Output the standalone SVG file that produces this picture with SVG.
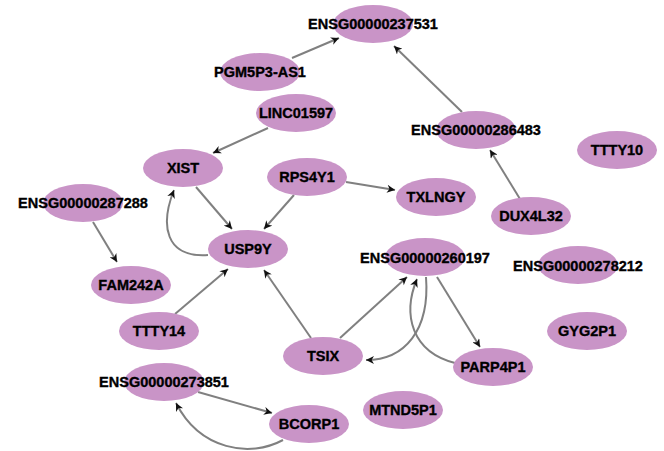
<svg xmlns="http://www.w3.org/2000/svg" width="664" height="451" viewBox="0 0 664 451">
  <style>
    .node ellipse { fill: #c994c7; }
    .node text { font-family: "Liberation Sans", Arial, sans-serif; font-weight: bold; font-size: 14.5px; fill: #000; stroke: #000; stroke-width: 0.35px; text-anchor: middle; }
    .edges path { fill: none; stroke: #808080; stroke-width: 2; marker-end: url(#arrow); }
  </style>
  <defs>
    <marker id="arrow" viewBox="0 0 10 10" refX="10" refY="5" markerWidth="9" markerHeight="8" markerUnits="userSpaceOnUse" orient="auto">
      <path d="M0,0 L10,5 L0,10 L3,5 z" fill="#111"/>
    </marker>
  </defs>
  <rect width="664" height="451" fill="#fff"/>

  <g class="edges">
    <path d="M292,58 L339,38"/>
    <path d="M462,112 L394,46"/>
    <path d="M268,128 L213,153"/>
    <path d="M196,187 L232,229"/>
    <path d="M208,255 C165,258 160,225 174,190"/>
    <path d="M294,195 L264,229"/>
    <path d="M346,182 L395,190"/>
    <path d="M93,222 L117,262"/>
    <path d="M175,314 L228,269"/>
    <path d="M311,338 L264,270"/>
    <path d="M340,338 L407,277"/>
    <path d="M426,277 C430,330 405,360 366,360"/>
    <path d="M455,363 C412,352 402,315 417,279"/>
    <path d="M437,277 L480,347"/>
    <path d="M520,199 L490,150"/>
    <path d="M198,392 L272,413"/>
    <path d="M283,440 C250,458 200,450 176,403"/>
  </g>

  <g id="ENSG00000237531" class="node"><ellipse cx="373" cy="24" rx="40" ry="19"/><text x="373" y="29">ENSG00000237531</text></g>
  <g id="PGM5P3-AS1" class="node"><ellipse cx="260" cy="72" rx="40" ry="19"/><text x="260" y="77">PGM5P3-AS1</text></g>
  <g id="LINC01597" class="node"><ellipse cx="296" cy="113" rx="40" ry="19"/><text x="296" y="118">LINC01597</text></g>
  <g id="ENSG00000286483" class="node"><ellipse cx="476" cy="130" rx="40" ry="19"/><text x="476" y="135">ENSG00000286483</text></g>
  <g id="TTTY10" class="node"><ellipse cx="617" cy="150" rx="40" ry="19"/><text x="617" y="155">TTTY10</text></g>
  <g id="XIST" class="node"><ellipse cx="183" cy="168" rx="40" ry="19"/><text x="183" y="173">XIST</text></g>
  <g id="RPS4Y1" class="node"><ellipse cx="307" cy="177" rx="40" ry="19"/><text x="307" y="182">RPS4Y1</text></g>
  <g id="TXLNGY" class="node"><ellipse cx="436" cy="197" rx="40" ry="19"/><text x="436" y="202">TXLNGY</text></g>
  <g id="ENSG00000287288" class="node"><ellipse cx="83" cy="203" rx="40" ry="19"/><text x="83" y="208">ENSG00000287288</text></g>
  <g id="DUX4L32" class="node"><ellipse cx="531" cy="216" rx="40" ry="19"/><text x="531" y="221">DUX4L32</text></g>
  <g id="USP9Y" class="node"><ellipse cx="248" cy="249" rx="40" ry="19"/><text x="248" y="254">USP9Y</text></g>
  <g id="ENSG00000260197" class="node"><ellipse cx="425" cy="257" rx="40" ry="19"/><text x="425" y="263">ENSG00000260197</text></g>
  <g id="ENSG00000278212" class="node"><ellipse cx="578" cy="265" rx="40" ry="19"/><text x="578" y="271">ENSG00000278212</text></g>
  <g id="FAM242A" class="node"><ellipse cx="131" cy="285" rx="40" ry="19"/><text x="131" y="290">FAM242A</text></g>
  <g id="TTTY14" class="node"><ellipse cx="159" cy="331" rx="40" ry="19"/><text x="159" y="336">TTTY14</text></g>
  <g id="GYG2P1" class="node"><ellipse cx="587" cy="331" rx="40" ry="19"/><text x="587" y="336">GYG2P1</text></g>
  <g id="TSIX" class="node"><ellipse cx="323" cy="356" rx="40" ry="19"/><text x="323" y="361">TSIX</text></g>
  <g id="PARP4P1" class="node"><ellipse cx="493" cy="367" rx="40" ry="19"/><text x="493" y="372">PARP4P1</text></g>
  <g id="ENSG00000273851" class="node"><ellipse cx="164" cy="382" rx="40" ry="19"/><text x="164" y="387">ENSG00000273851</text></g>
  <g id="MTND5P1" class="node"><ellipse cx="403" cy="410" rx="40" ry="19"/><text x="403" y="415">MTND5P1</text></g>
  <g id="BCORP1" class="node"><ellipse cx="309" cy="424" rx="40" ry="19"/><text x="309" y="429">BCORP1</text></g>
</svg>
